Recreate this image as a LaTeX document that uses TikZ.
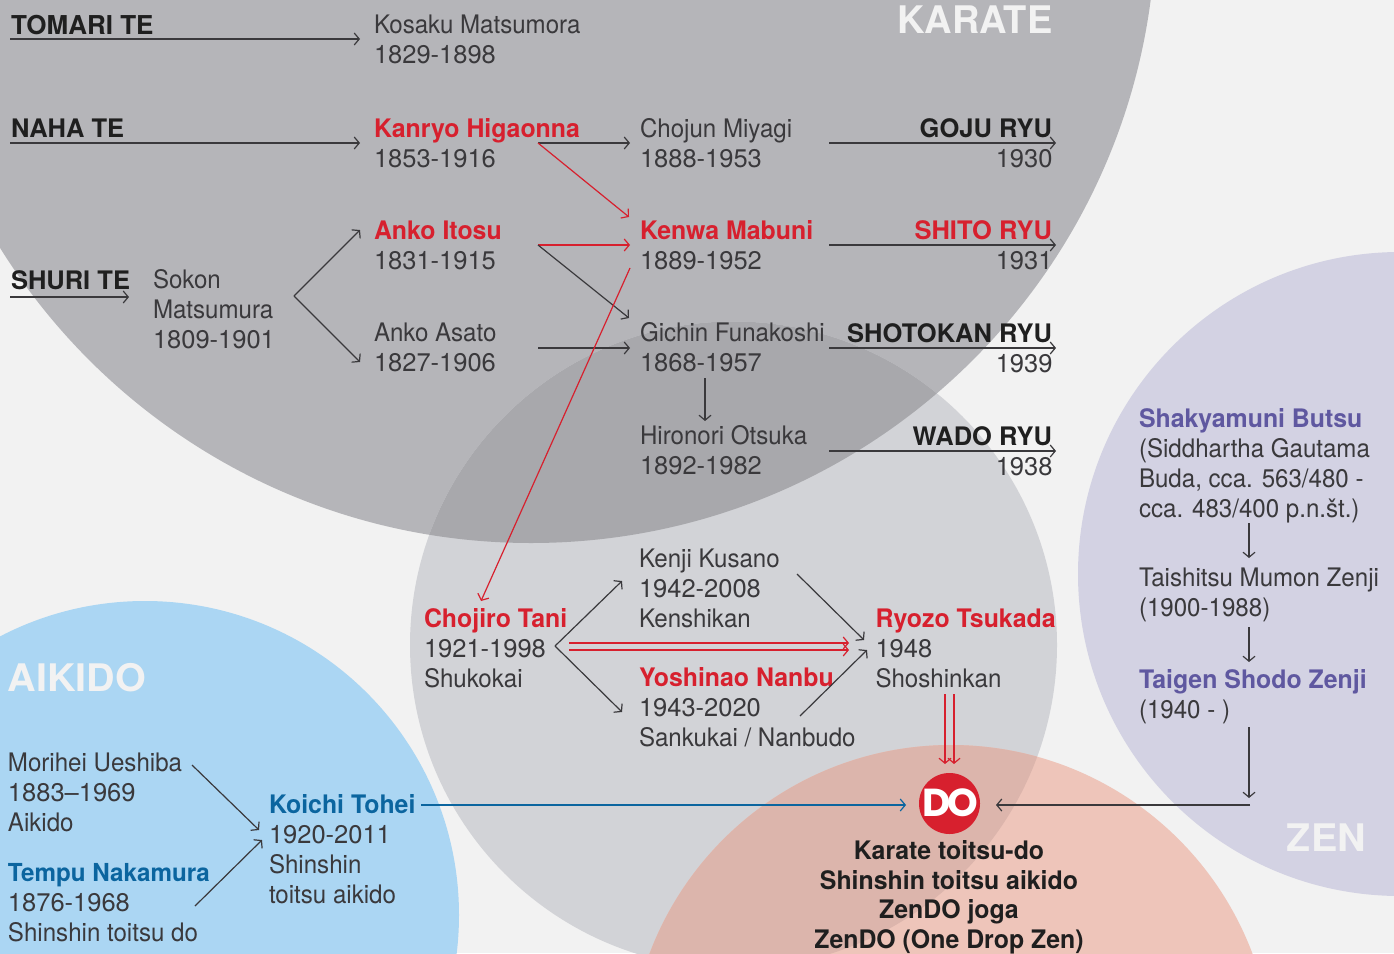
\documentclass[tikz,border=0pt]{standalone}
\usepackage{fontspec}
\setmainfont{TeX Gyre Heros}[FakeStretch=0.945,BoldFeatures={FakeStretch=0.975}]
\newfontfamily\plainf{TeX Gyre Heros}
\newfontfamily\widef{TeX Gyre Heros}[BoldFeatures={FakeStretch=1.04}]
\newfontfamily\dofont{Poppins}
\usetikzlibrary{arrows.meta}
\definecolor{bgc}{HTML}{F2F2F2}
\definecolor{karatec}{HTML}{B5B5B9}
\definecolor{midc}{HTML}{D2D3D7}
\definecolor{kmc}{HTML}{A8A8AC}
\definecolor{aikc}{HTML}{ABD6F3}
\definecolor{pinkc}{HTML}{EEC5BA}
\definecolor{pmc}{HTML}{DCB5AC}
\definecolor{zenc}{HTML}{D3D2E3}
\definecolor{ink}{HTML}{3A393C}
\definecolor{redc}{HTML}{D7202E}
\definecolor{bluec}{HTML}{0B659F}
\definecolor{purc}{HTML}{5F58A0}
\newcommand{\rd}[1]{{\bfseries\color{redc}#1}}
\newcommand{\bl}[1]{{\bfseries\color{bluec}#1}}
\newcommand{\pu}[1]{{\bfseries\color{purc}#1}}
\newcommand{\yy}[1]{{\plainf #1}}
\newcommand{\fl}{\rule{0pt}{20pt}}
\tikzset{
  txt/.style={anchor=north west,inner sep=0pt,outer sep=0pt,align=left,text=ink,font=\fontsize{25.5}{30}\selectfont},
  head/.style={anchor=base west,inner sep=0pt,outer sep=0pt,text=black!88,font=\fontsize{25.5}{30}\selectfont\plainf\bfseries},
  headr/.style={head,anchor=base east},
  yr/.style={anchor=base east,inner sep=0pt,outer sep=0pt,text=ink,font=\fontsize{25.5}{30}\selectfont\plainf},
  big/.style={anchor=base east,inner sep=0pt,outer sep=0pt,text=bgc,font=\fontsize{38}{40}\selectfont\plainf\bfseries},
  bigwide/.style={big,font=\fontsize{38}{40}\selectfont\widef\bfseries},
  capt/.style={anchor=north,inner sep=0pt,outer sep=0pt,align=center,text=black!88,font=\fontsize{25.5}{29.5}\selectfont\bfseries},
  conn/.style={draw=ink,line width=1.2pt,-{Straight Barb[length=5pt,width=12pt,line width=1.2pt]}},
  redconn/.style={conn,draw=redc},
  blueconn/.style={conn,draw=bluec},
}
\begin{document}
\begin{tikzpicture}[x=1pt,y=-1pt]
\useasboundingbox (0,0) rectangle (1394,953);
\clip (0,0) rectangle (1394,953);
\fill[bgc] (0,0) rectangle (1394,953);
% circles
\fill[karatec] (531,-82) circle[radius=625];
\fill[midc] (733.5,645) circle[radius=323.5];
\begin{scope}
  \clip (733.5,645) circle[radius=323.5];
  \fill[kmc] (531,-82) circle[radius=625];
\end{scope}
\fill[aikc] (145,915) circle[radius=314];
\fill[zenc] (1400,574) circle[radius=322];
\fill[pinkc] (951,1067) circle[radius=322];
\begin{scope}
  \clip (733.5,645) circle[radius=323.5];
  \fill[pmc] (951,1067) circle[radius=322];
\end{scope}
% big labels
\node[big] (karate) at (1052.5,33) {KARATE};
\node[bigwide] (aikido) at (146,691) {AIKIDO};
\node[bigwide] (zen) at (1366,851) {ZEN};
% heads
\node[head] (tomari) at (11,34) {\fontsize{26}{30}\selectfont TOMARI TE};
\node[head] (naha) at (11,137) {NAHA TE};
\node[head] (shuri) at (11,289) {SHURI TE};
\node[headr] (goju) at (1052,137) {GOJU RYU};
\node[headr,text=redc] (shito) at (1052,239) {SHITO RYU};
\node[headr] (shotokan) at (1052,342) {SHOTOKAN RYU};
\node[headr] (wado) at (1052,445) {WADO RYU};
\node[yr] (y1930) at (1052.5,167) {1930};
\node[yr] (y1931) at (1052.5,269) {1931};
\node[yr] (y1939) at (1052.5,372) {1939};
\node[yr] (y1938) at (1052.5,475) {1938};
% people: baseline of first line = y + 20
\node[txt] (kosaku) at (374,13.5) {\fl Kosaku Matsumora\\\yy{1829-1898}};
\node[txt] (kanryo) at (374,117) {\fl\rd{Kanryo Higaonna}\\\yy{1853-1916}};
\node[txt] (chojun) at (640,117) {\fl Chojun Miyagi\\\yy{1888-1953}};
\node[txt] (itosu) at (374,219) {\fl\rd{Anko Itosu}\\\yy{1831-1915}};
\node[txt] (asato) at (374,321.5) {\fl Anko Asato\\\yy{1827-1906}};
\node[txt] (sokon) at (153,268.5) {\fl Sokon\\Matsumura\\\yy{1809-1901}};
\node[txt] (kenwa) at (640,219) {\fl\rd{Kenwa Mabuni}\\\yy{1889-1952}};
\node[txt] (gichin) at (640,321.5) {\fl Gichin Funakoshi\\\yy{1868-1957}};
\node[txt] (otsuka) at (640,424.5) {\fl Hironori Otsuka\\\yy{1892-1982}};
\node[txt] (kusano) at (639,547) {\fl Kenji Kusano\\\yy{1942-2008}\\Kenshikan};
\node[txt] (tani) at (424,607.5) {\fl\rd{Chojiro Tani}\\\yy{1921-1998}\\Shukokai};
\node[txt] (tsukada) at (875.5,607.5) {\fl\rd{Ryozo Tsukada}\\\yy{1948}\\Shoshinkan};
\node[txt] (nanbu) at (639,666.5) {\fl\rd{Yoshinao Nanbu}\\\yy{1943-2020}\\Sankukai / Nanbudo};
\node[txt] (ueshiba) at (8,751) {\fl Morihei Ueshiba\\\yy{1883–1969}\\Aikido};
\node[txt] (nakamura) at (8,861.5) {\fl\bl{\fontsize{24.8}{30}\selectfont Tempu Nakamura}\\\yy{1876-1968}\\Shinshin toitsu do};
\node[txt] (tohei) at (269,793) {\fl\bl{Koichi Tohei}\\\yy{1920-2011}\\Shinshin\\toitsu aikido};
\node[txt] (buddha) at (1139,407.5) {\fl\pu{Shakyamuni Butsu}\\(Siddhartha Gautama\\Buda, cca. 563/480 -\\cca. 483/400 p.n.št.)};
\node[txt] (mumon) at (1139,566) {\fl Taishitsu Mumon Zenji\\(1900-1988)};
\node[txt] (shodo) at (1139,668.5) {\fl\pu{Taigen Shodo Zenji}\\(1940 - )};
\node[capt] (caption) at (949,839.5) {\fl Karate toitsu-do\\Shinshin toitsu aikido\\ZenDO joga\\ZenDO (One Drop Zen)};
% DO mark
\node[circle,fill=redc,minimum size=61pt,inner sep=0pt] (do) at (949.5,803.5) {};
\node[inner sep=0pt,text=white,font=\fontsize{39}{40}\dofont\bfseries] (dotext) at (950,803) {D\kern-3pt O};
% connector ends
\coordinate (tomariA) at (10,39);   \coordinate (tomariB) at (360,39);
\coordinate (nahaA) at (10,143);    \coordinate (nahaB) at (360,143);
\coordinate (shuriA) at (10,297);   \coordinate (shuriB) at (129,297);
\coordinate (kanryoA) at (538,143); \coordinate (chojunB) at (630,143);
\coordinate (kenwaB1) at (629,217); \coordinate (itosuA) at (538,245);
\coordinate (kenwaB2) at (630,245); \coordinate (gichinB1) at (629,318);
\coordinate (asatoA) at (538,348);  \coordinate (gichinB2) at (630,348);
\coordinate (kenwaA) at (630,268);  \coordinate (taniB) at (481,601);
\coordinate (sokonA) at (294,296);  \coordinate (itosuB) at (360,230);
\coordinate (asatoB) at (360,362);
\coordinate (gichinA) at (705,378); \coordinate (otsukaB) at (705,421);
\coordinate (gojuA) at (829,143);   \coordinate (gojuB) at (1056,143);
\coordinate (shitoA) at (829,245);  \coordinate (shitoB) at (1056,245);
\coordinate (shotoA) at (829,348);  \coordinate (shotoB) at (1056,348);
\coordinate (wadoA) at (829,451);   \coordinate (wadoB) at (1056,451);
\coordinate (taniA) at (555,646);   \coordinate (kusanoB) at (622,581);
\coordinate (nanbuB) at (622,712);
\coordinate (taniR1) at (569,643);  \coordinate (tsuR1) at (849,643);
\coordinate (taniR2) at (569,650);  \coordinate (tsuR2) at (849,650);
\coordinate (kusanoA) at (797,574); \coordinate (tsuB1) at (864,640);
\coordinate (nanbuA) at (800,716);  \coordinate (tsuB2) at (867,650);
\coordinate (tsuA1) at (945,694);   \coordinate (doB1) at (945,764);
\coordinate (tsuA2) at (954,694);   \coordinate (doB2) at (954,764);
\coordinate (toheiA) at (421,805);  \coordinate (doBl) at (906,805);
\coordinate (zenJ) at (1250,805);   \coordinate (doBr) at (996,805);
\coordinate (buddhaA) at (1249,523); \coordinate (mumonB) at (1249,558);
\coordinate (mumonA) at (1249,627);  \coordinate (shodoB) at (1249,662);
\coordinate (shodoA) at (1249,727);  \coordinate (shodoC) at (1249,798);
\coordinate (uesA) at (192,765);     \coordinate (toheiB1) at (259,830);
\coordinate (nakA) at (195,906);     \coordinate (toheiB2) at (262,840);
% connectors
\draw[conn] (tomariA) -- (tomariB);
\draw[conn] (nahaA) -- (nahaB);
\draw[conn] (shuriA) -- (shuriB);
\draw[conn] (kanryoA) -- (chojunB);
\draw[redconn] (kanryoA) -- (kenwaB1);
\draw[redconn] (itosuA) -- (kenwaB2);
\draw[conn] (itosuA) -- (gichinB1);
\draw[conn] (asatoA) -- (gichinB2);
\draw[redconn] (kenwaA) -- (taniB);
\draw[conn] (sokonA) -- (itosuB);
\draw[conn] (sokonA) -- (asatoB);
\draw[conn] (gichinA) -- (otsukaB);
\draw[conn] (gojuA) -- (gojuB);
\draw[conn] (shitoA) -- (shitoB);
\draw[conn] (shotoA) -- (shotoB);
\draw[conn] (wadoA) -- (wadoB);
\draw[conn] (taniA) -- (kusanoB);
\draw[conn] (taniA) -- (nanbuB);
\draw[redconn] (taniR1) -- (tsuR1);
\draw[redconn] (taniR2) -- (tsuR2);
\draw[conn] (kusanoA) -- (tsuB1);
\draw[conn] (nanbuA) -- (tsuB2);
\draw[redconn] (tsuA1) -- (doB1);
\draw[redconn] (tsuA2) -- (doB2);
\draw[blueconn] (toheiA) -- (doBl);
\draw[conn] (zenJ) -- (doBr);
\draw[conn] (buddhaA) -- (mumonB);
\draw[conn] (mumonA) -- (shodoB);
\draw[conn] (shodoA) -- (shodoC);
\draw[conn] (uesA) -- (toheiB1);
\draw[conn] (nakA) -- (toheiB2);
\end{tikzpicture}
\end{document}
